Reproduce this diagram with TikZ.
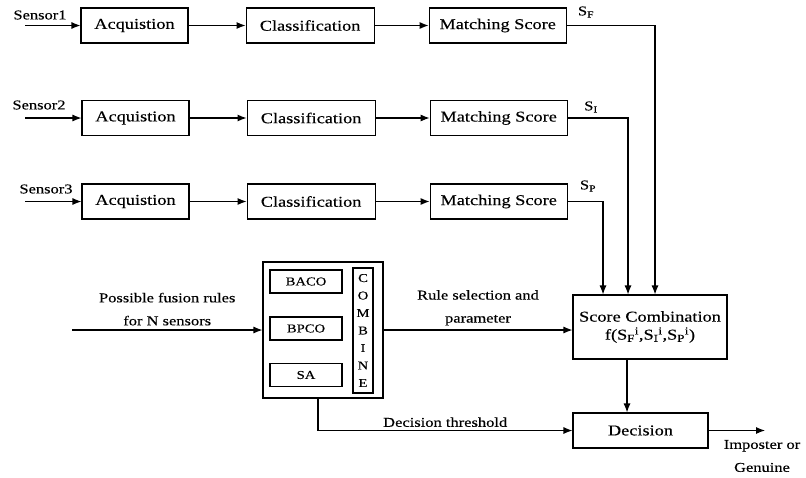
\documentclass[tikz,border=0pt]{standalone}
\usepackage{fontspec}
\setmainfont{Liberation Serif}[FakeStretch=1.22,FakeBold=0.3]
\usetikzlibrary{positioning,arrows.meta}

\begin{document}
\begin{tikzpicture}[x=1pt, y=-1pt, line width=1.1pt,
  block/.style={draw, minimum height=35pt, inner sep=0pt,
                font=\fontsize{15}{18}\selectfont},
  rulebox/.style={draw, minimum width=72pt, minimum height=23pt,
                  inner sep=0pt, font=\fontsize{12}{14}\selectfont},
  lbl/.style={font=\fontsize{13.5}{23}\selectfont, align=center, inner sep=1pt},
  >={Latex[length=9pt,width=7pt]}
]
  \useasboundingbox (0,0) rectangle (806,477);

  % three sensor chains
  \node[block, minimum width=107pt] (acq1) at (134.5,25.5) {Acquistion};
  \node[block, minimum width=128pt, right=57pt of acq1] (cls1) {Classification};
  \node[block, minimum width=137pt, right=54pt of cls1] (ms1) {Matching Score};

  \node[block, minimum width=107pt] (acq2) at (135.5,118) {Acquistion};
  \node[block, minimum width=128pt, right=57pt of acq2] (cls2) {Classification};
  \node[block, minimum width=137pt, right=54pt of cls2] (ms2) {Matching Score};

  \node[block, minimum width=107pt] (acq3) at (135.5,201.5) {Acquistion};
  \node[block, minimum width=128pt, right=57pt of acq3] (cls3) {Classification};
  \node[block, minimum width=137pt, right=54pt of cls3] (ms3) {Matching Score};

  \node[lbl] (sen1) at (40,15)  {Sensor1};
  \node[lbl] (sen2) at (39,105) {Sensor2};
  \node[lbl] (sen3) at (46,189) {Sensor3};
  \coordinate (in1) at (25,25.5);
  \coordinate (in2) at (25,118);
  \coordinate (in3) at (25,201.5);

  \node[lbl] (sf) at (586,12)  {S\textsubscript{F}};
  \node[lbl] (si) at (591,107) {S\textsubscript{I}};
  \node[lbl] (sp) at (588,186) {S\textsubscript{P}};

  % fusion rules
  \node[draw, minimum width=120pt, minimum height=136pt] (comb) at (323,330) {};
  \node[rulebox] (baco) at (306,281.5) {BACO};
  \node[rulebox] (bpco) at (306,328.5) {BPCO};
  \node[rulebox] (sa)   at (306,375)   {SA};
  \node[draw, minimum width=20pt, minimum height=125pt, inner sep=0pt,
        align=center, font=\fontsize{12}{17.5}\selectfont] (cmb) at (363,330.5)
        {C\\O\\M\\B\\I\\N\\E};
  \coordinate (fin) at (72,330);

  \node[block, minimum width=154pt, minimum height=64pt, align=center] (sc) at (650,327)
       {Score Combination\\f(S\textsubscript{F}\textsuperscript{i},S\textsubscript{I}\textsuperscript{i},S\textsubscript{P}\textsuperscript{i})};
  \node[block, minimum width=135pt] (dec) at (640.5,430.5) {Decision};
  \coordinate (out) at (765,430.5);
  \node[lbl] (res) at (762,456) {Imposter or\\Genuine};

  \draw[->] (in1) -- (acq1);
  \draw[->] (in2) -- (acq2);
  \draw[->] (in3) -- (acq3);
  \draw[->] (acq1) -- (cls1);
  \draw[->] (cls1) -- (ms1);
  \draw[->] (acq2) -- (cls2);
  \draw[->] (cls2) -- (ms2);
  \draw[->] (acq3) -- (cls3);
  \draw[->] (cls3) -- (ms3);

  \draw[->] (ms1.east) -| ([xshift=5pt]sc.north);
  \draw[->] (ms2.east) -| ([xshift=-22pt]sc.north);
  \draw[->] (ms3.east) -| ([xshift=-47pt]sc.north);

  \draw[->] (fin) -- node[lbl, above=3pt] {Possible fusion rules\\for N sensors} (comb.west);
  \draw[->] (comb.east) -- node[lbl, above=3pt] {Rule selection and\\parameter} (comb.east -| sc.west);
  \draw[->] ([xshift=-5pt]comb.south) |- node[lbl, pos=0.75, above=2pt] {Decision threshold} (dec.west);
  \draw[->] ([xshift=-23pt]sc.south) -- ([xshift=-13.5pt]dec.north);
  \draw[->] (dec.east) -- (out);
\end{tikzpicture}
\end{document}
